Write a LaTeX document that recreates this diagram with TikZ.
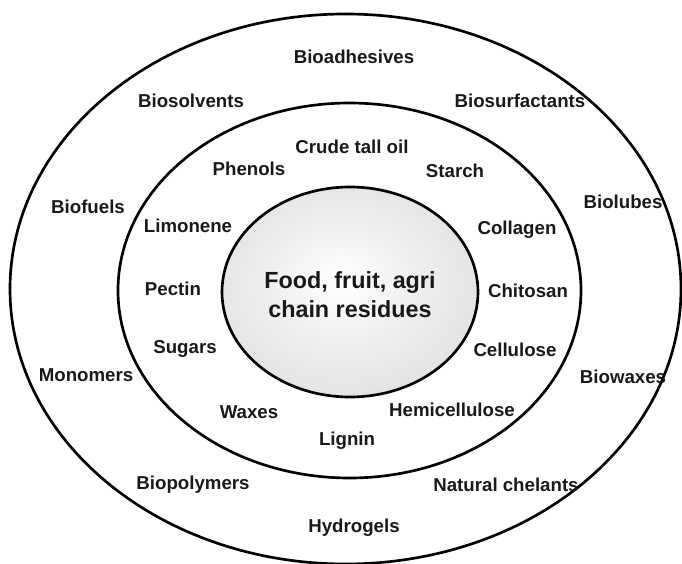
\documentclass[tikz,border=0pt]{standalone}
\usepackage{fontspec}
\setmainfont{Liberation Sans}
\pgfdeclareradialshading{coreshade}{\pgfpoint{-2bp}{3bp}}{%
  color(0bp)=(white); color(16bp)=(gray!14); color(38bp)=(gray!30);
  color(45bp)=(gray!40); color(50bp)=(gray!55)}
\tikzset{
  ring/.style={line width=2pt, black},
  lbl/.style={font=\bfseries\fontsize{14}{16}\selectfont, inner sep=0pt,
    text height=1.4ex, text depth=0pt, text=black!90},
  corelbl/.style={font=\bfseries\fontsize{17.5}{21.75}\selectfont,
    align=center, inner sep=0pt, text=black!90}
}
\begin{document}
\begin{tikzpicture}[x=75pt,y=75pt]
  \useasboundingbox (0,0) rectangle (6.82,5.64);
  % rings
  \draw[ring] (3.455,2.75) ellipse [x radius=3.355, y radius=2.75];
  \draw[ring] (3.495,2.735) ellipse [x radius=2.315, y radius=1.875];
  \shade[shading=coreshade] (3.50,2.72) ellipse [x radius=1.28, y radius=1.05];
  \draw[ring] (3.50,2.72) ellipse [x radius=1.28, y radius=1.05];
  % centre : residues
  \node[corelbl] (core) at (3.50,2.695) {Food, fruit, agri\\chain residues};
  % middle ring : compounds
  \foreach \name/\x/\y/\txt in {
      tall/3.52/4.15/Crude tall oil, phenols/2.49/3.93/Phenols,
      starch/4.55/3.91/Starch, limonene/1.88/3.36/Limonene,
      collagen/5.17/3.34/Collagen, pectin/1.73/2.73/Pectin,
      chitosan/5.28/2.71/Chitosan, sugars/1.85/2.15/Sugars,
      cellulose/5.15/2.12/Cellulose, waxes/2.49/1.50/Waxes,
      hemi/4.52/1.52/Hemicellulose, lignin/3.47/1.23/Lignin}
    {\node[lbl] (\name) at (\x,\y) {\txt};}
  % outer ring : products
  \foreach \name/\x/\y/\txt in {
      adhes/3.54/5.05/Bioadhesives, solv/1.91/4.61/Biosolvents,
      surf/5.20/4.61/Biosurfactants, fuels/0.88/3.55/Biofuels,
      lubes/6.23/3.60/Biolubes, monom/0.86/1.87/Monomers,
      biowax/6.23/1.85/Biowaxes, polym/1.93/0.79/Biopolymers,
      chel/5.06/0.77/Natural chelants, hydro/3.54/0.36/Hydrogels}
    {\node[lbl] (\name) at (\x,\y) {\txt};}
\end{tikzpicture}
\end{document}
